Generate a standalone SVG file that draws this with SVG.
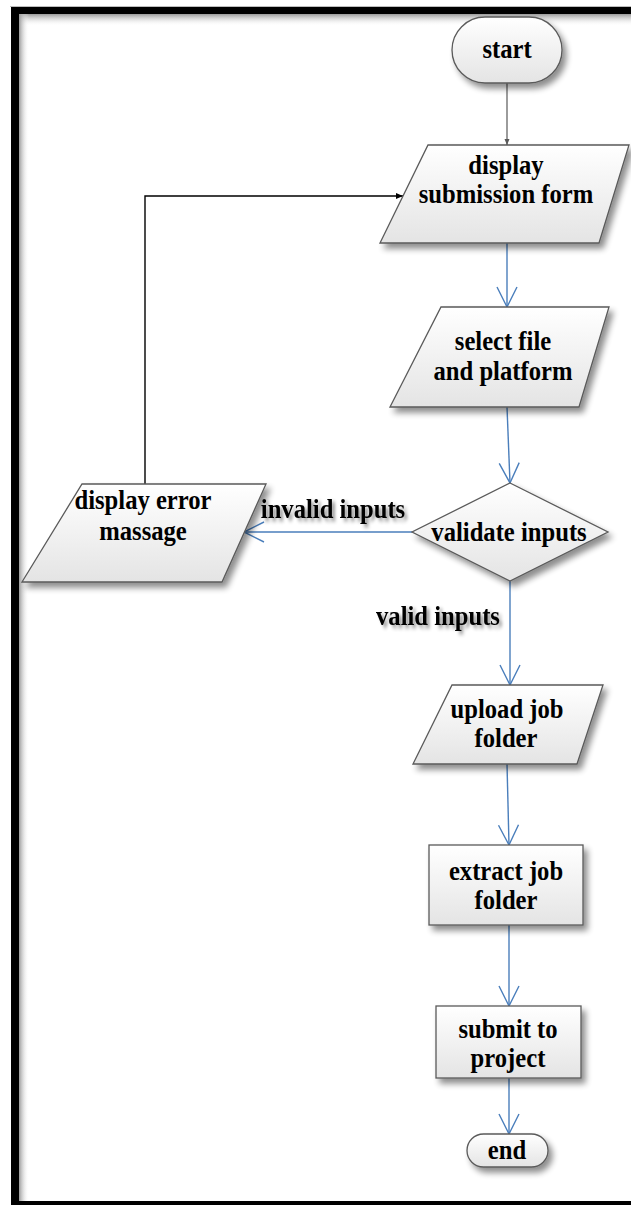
<svg xmlns="http://www.w3.org/2000/svg" width="631" height="1205" viewBox="0 0 631 1205">
  <style>
    .shape { stroke: #5a5a5a; stroke-width: 1.3; fill: url(#fillGrad); filter: url(#shadow); }
    .t { font-family: "Liberation Serif", "Times New Roman", serif; font-weight: bold; font-size: 28px; fill: #000; text-anchor: middle; }
    .lbl { filter: url(#textShadow); }
    .blue { stroke: #4a7ebb; stroke-width: 1.4; fill: none; marker-end: url(#openArrow); }
    .black { stroke: #000; stroke-width: 1.4; fill: none; marker-end: url(#solidBlack); }
    .gray { stroke: #595959; stroke-width: 1.2; fill: none; marker-end: url(#solidGray); }
  </style>
  <defs>
    <linearGradient id="fillGrad" x1="0" y1="0" x2="0" y2="1">
      <stop offset="0" stop-color="#ffffff"/>
      <stop offset="1" stop-color="#e4e4e4"/>
    </linearGradient>
    <linearGradient id="topShade" x1="0" y1="0" x2="0" y2="1">
      <stop offset="0" stop-color="#9a9a9a"/>
      <stop offset="1" stop-color="#ffffff" stop-opacity="0"/>
    </linearGradient>
    <linearGradient id="leftShade" x1="0" y1="0" x2="1" y2="0">
      <stop offset="0" stop-color="#9a9a9a"/>
      <stop offset="1" stop-color="#ffffff" stop-opacity="0"/>
    </linearGradient>
    <filter id="shadow" x="-20%" y="-20%" width="150%" height="160%">
      <feGaussianBlur in="SourceAlpha" stdDeviation="3"/>
      <feOffset dx="4" dy="5" result="b"/>
      <feComponentTransfer><feFuncA type="linear" slope="0.45"/></feComponentTransfer>
      <feMerge><feMergeNode/><feMergeNode in="SourceGraphic"/></feMerge>
    </filter>
    <filter id="textShadow" x="-10%" y="-30%" width="130%" height="180%">
      <feGaussianBlur in="SourceAlpha" stdDeviation="2"/>
      <feOffset dx="3" dy="3"/>
      <feComponentTransfer><feFuncA type="linear" slope="0.4"/></feComponentTransfer>
      <feMerge><feMergeNode/><feMergeNode in="SourceGraphic"/></feMerge>
    </filter>
    <marker id="openArrow" viewBox="-22 -12 24 24" refX="0" refY="0" markerWidth="24" markerHeight="24" markerUnits="userSpaceOnUse" orient="auto">
      <path d="M-20,-10 L0,0 L-20,10" fill="none" stroke="#4a7ebb" stroke-width="1.4"/>
    </marker>
    <marker id="solidBlack" viewBox="-8 -4 9 8" refX="0" refY="0" markerWidth="9" markerHeight="8" markerUnits="userSpaceOnUse" orient="auto">
      <path d="M-7,-3 L0,0 L-7,3 Z" fill="#000"/>
    </marker>
    <marker id="solidGray" viewBox="-8 -4 9 8" refX="0" refY="0" markerWidth="9" markerHeight="8" markerUnits="userSpaceOnUse" orient="auto">
      <path d="M-6,-2.5 L0,0 L-6,2.5 Z" fill="#595959"/>
    </marker>
  </defs>

  <!-- page background and picture frame -->
  <rect x="0" y="0" width="631" height="1205" fill="#ffffff"/>
  <rect x="19" y="14" width="612" height="12" fill="url(#topShade)"/>
  <rect x="19" y="14" width="10" height="1187" fill="url(#leftShade)"/>
  <line x1="10" y1="6.5" x2="631" y2="6.5" stroke="#bdbdbd" stroke-width="1"/>
  <rect x="11" y="7" width="620" height="7" fill="#000"/>
  <rect x="11" y="7" width="8" height="1198" fill="#000"/>
  <rect x="11" y="1201" width="620" height="4" fill="#000"/>

  <!-- connectors -->
  <g id="connectors">
    <path class="gray" d="M507,83 V145"/>
    <path class="blue" d="M507,243 L507,307"/>
    <path class="blue" d="M507,407 L510,483"/>
    <path class="blue" d="M412,532 L244,532"/>
    <path class="black" d="M145,484 V196 H403"/>
    <path class="blue" d="M510,581 L510,685"/>
    <path class="blue" d="M507,764 L509,845"/>
    <path class="blue" d="M509,925 V1006"/>
    <path class="blue" d="M509,1078 V1134"/>
    <text class="t lbl" transform="translate(333,518) scale(0.88,1)">invalid inputs</text>
    <text class="t lbl" transform="translate(438,625) scale(0.88,1)">valid inputs</text>
  </g>

  <g id="start">
    <rect class="shape" x="452" y="17" width="110" height="66" rx="33"/>
    <text class="t" font-size="25" transform="translate(507,58) scale(0.88,1)">start</text>
  </g>

  <g id="display-form">
    <polygon class="shape" points="428,145 629,145 599,243 380,243"/>
    <text class="t" transform="translate(506,174) scale(0.88,1)">display</text>
    <text class="t" transform="translate(506,203) scale(0.88,1)">submission form</text>
  </g>

  <g id="select-file">
    <polygon class="shape" points="441,307 609,307 579,407 390,407"/>
    <text class="t" transform="translate(503,350) scale(0.88,1)">select file</text>
    <text class="t" transform="translate(503,380) scale(0.88,1)">and platform</text>
  </g>

  <g id="validate">
    <polygon class="shape" points="510,483 608,532 510,581 412,532"/>
    <text class="t" transform="translate(509,541) scale(0.88,1)">validate inputs</text>
  </g>

  <g id="display-error">
    <polygon class="shape" points="82,484 266,484 222,582 22,582"/>
    <text class="t" transform="translate(143,509) scale(0.88,1)">display error</text>
    <text class="t" transform="translate(143,540) scale(0.88,1)">massage</text>
  </g>

  <g id="upload">
    <polygon class="shape" points="452,685 603,685 577,764 413,764"/>
    <text class="t" transform="translate(507,718) scale(0.88,1)">upload job</text>
    <text class="t" transform="translate(506,747) scale(0.88,1)">folder</text>
  </g>

  <g id="extract">
    <rect class="shape" x="429" y="845" width="154" height="80"/>
    <text class="t" transform="translate(506,880) scale(0.88,1)">extract job</text>
    <text class="t" transform="translate(506,909) scale(0.88,1)">folder</text>
  </g>

  <g id="submit">
    <rect class="shape" x="436" y="1006" width="145" height="72"/>
    <text class="t" transform="translate(508,1038) scale(0.88,1)">submit to</text>
    <text class="t" transform="translate(508,1067) scale(0.88,1)">project</text>
  </g>

  <g id="end">
    <rect class="shape" x="467" y="1134" width="81" height="33" rx="16.5"/>
    <text class="t" transform="translate(507,1159) scale(0.88,1)">end</text>
  </g>
</svg>
